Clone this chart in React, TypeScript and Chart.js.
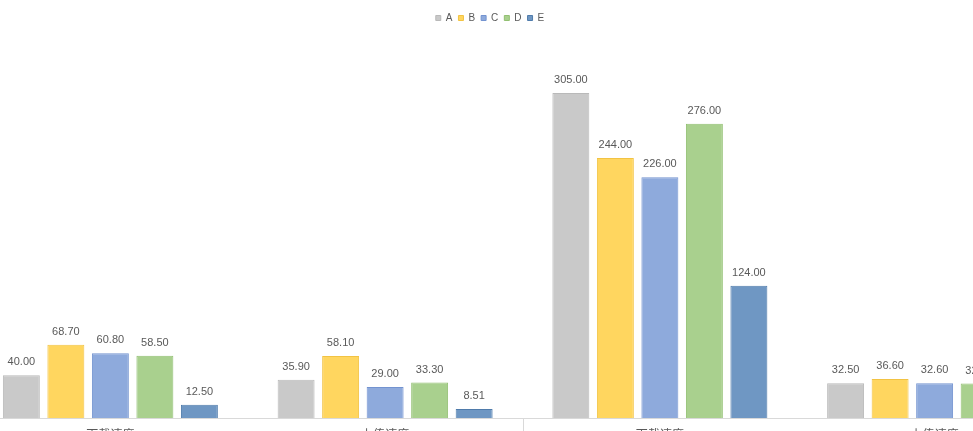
import { useEffect, useRef } from 'react';
import { Chart, registerables } from 'chart.js';

Chart.register(...registerables);

// datos
const categories = ['下载速度', '上传速度', '下载速度', '上传速度'];
const seriesNames = ['A', 'B', 'C', 'D', 'E'];
const valuesA = [40.0, 35.9, 305.0, 32.5];
const valuesB = [68.7, 58.1, 244.0, 36.6];
const valuesC = [60.8, 29.0, 226.0, 32.6];
const valuesD = [58.5, 33.3, 276.0, 32.3];
const valuesE = [12.5, 8.51, 124.0, 8.0];
const yMin = 0;
const yMax = 350;

const fills = ['#c9c9c9', '#ffd65f', '#8eaadc', '#a9d08e', '#6f97c3'];
const borders = ['#b9b9b9', '#f2c343', '#7393d0', '#92c072', '#4f7bab'];

// etiquetas de valor encima de cada barra
const valueLabels = {
  id: 'valueLabels',
  afterDatasetsDraw(chart: any) {
    const { ctx } = chart;
    ctx.save();
    ctx.font = "11px 'Liberation Sans', sans-serif";
    ctx.fillStyle = '#595959';
    ctx.textAlign = 'center';
    ctx.textBaseline = 'alphabetic';
    chart.data.datasets.forEach((ds: any, i: number) => {
      const meta = chart.getDatasetMeta(i);
      meta.data.forEach((bar: any, j: number) => {
        ctx.fillText(Number(ds.data[j]).toFixed(2), bar.x, bar.y - 10);
      });
    });
    ctx.restore();
  },
};

// separador entre los dos grupos de categorías
const groupDivider = {
  id: 'groupDivider',
  afterDraw(chart: any) {
    const { ctx, chartArea } = chart;
    const x = chart.scales.x;
    const px = (x.getPixelForValue(1) + x.getPixelForValue(2)) / 2;
    ctx.save();
    ctx.strokeStyle = '#d9d9d9';
    ctx.lineWidth = 1;
    ctx.beginPath();
    ctx.moveTo(Math.round(px) + 0.5, chartArea.bottom);
    ctx.lineTo(Math.round(px) + 0.5, chartArea.bottom + 30);
    ctx.stroke();
    ctx.restore();
  },
};

// altura fija de la leyenda
const legendHeight = {
  id: 'legendHeight',
  beforeInit(chart: any) {
    const fit = chart.legend.fit;
    chart.legend.fit = function () {
      fit.bind(chart.legend)();
      this.height = 38;
    };
  },
};

export default function App() {
  const chartRef = useRef<HTMLCanvasElement>(null);
  const chartInstance = useRef<Chart | null>(null);

  useEffect(() => {
    if (!chartRef.current) return;
    if (chartInstance.current) chartInstance.current.destroy();

    const allValues = [valuesA, valuesB, valuesC, valuesD, valuesE];

    chartInstance.current = new Chart(chartRef.current, {
      type: 'bar',
      data: {
        labels: categories,
        datasets: seriesNames.map((name, i) => ({
          label: name,
          data: allValues[i],
          backgroundColor: fills[i],
          borderColor: borders[i],
          borderWidth: 1,
          categoryPercentage: 0.81,
          barPercentage: 0.83,
        })),
      },
      options: {
        responsive: true,
        maintainAspectRatio: false,
        animation: false,
        layout: { padding: { top: 7, left: 0, right: 0, bottom: 0 } },
        plugins: {
          legend: {
            position: 'top',
            labels: {
              boxWidth: 5,
              boxHeight: 5,
              padding: 6,
              color: '#595959',
              font: { family: "'Liberation Sans', sans-serif", size: 10 },
            },
          },
          tooltip: { enabled: false },
        },
        scales: {
          x: {
            grid: { display: false, drawTicks: false },
            border: { display: true, color: '#d9d9d9', width: 1 },
            ticks: {
              color: '#595959',
              padding: 9,
              font: { family: "'Noto Sans CJK SC', sans-serif", size: 12 },
            },
            afterFit: (scale: any) => {
              scale.height = 22;
            },
          },
          y: {
            min: yMin,
            max: yMax,
            grid: { display: false },
            border: { display: false },
            ticks: { display: false },
            afterFit: (scale: any) => {
              scale.width = 65;
            },
          },
        },
      },
      plugins: [valueLabels, groupDivider, legendHeight],
    });

    return () => {
      if (chartInstance.current) {
        chartInstance.current.destroy();
        chartInstance.current = null;
      }
    };
  }, []);

  return (
    <div
      style={{
        position: 'fixed',
        top: 0,
        left: 0,
        width: 973,
        height: 431,
        overflow: 'hidden',
        background: '#ffffff',
      }}
    >
      <div style={{ position: 'absolute', top: 0, left: -92, width: 1164, height: 440 }}>
        <canvas ref={chartRef}></canvas>
      </div>
    </div>
  );
}
